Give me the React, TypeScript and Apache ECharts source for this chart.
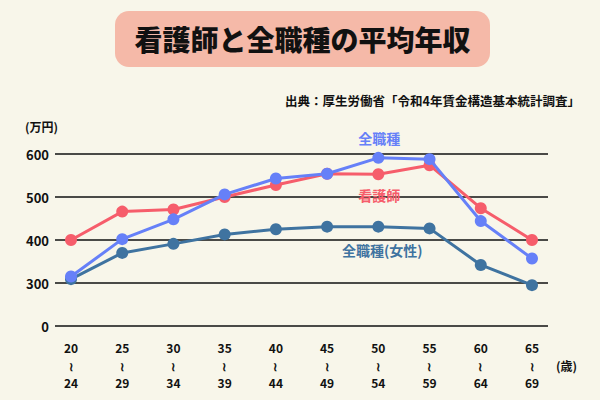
import React, { useEffect, useRef } from "react";
import * as echarts from "echarts";

const ageGroups = ["20\n≀\n24", "25\n≀\n29", "30\n≀\n34", "35\n≀\n39", "40\n≀\n44", "45\n≀\n49", "50\n≀\n54", "55\n≀\n59", "60\n≀\n64", "65\n≀\n69"];
const allJobs = [315, 402, 448, 506, 543, 554, 591, 588, 444, 357];
const nurses = [400, 466, 471, 500, 528, 554, 553, 574, 474, 400];
const allJobsFemale = [309, 370, 391, 413, 425, 431, 431, 427, 342, 295];
const yTickValues = [200, 300, 400, 500, 600];
const yTickLabels = ["0", "300", "400", "500", "600"];

const FONT = "'Noto Sans CJK JP', 'Noto Sans', sans-serif";
const BLUE = "#6680f8";
const PINK = "#f65d6b";
const TEAL = "#3f73a0";

function withLabel(values: number[], idx: number, text: string, color: string, position: string, distance: number, dx: number) {
  return values.map((v, i) =>
    i === idx
      ? {
          value: v,
          label: {
            show: true,
            formatter: text,
            position,
            distance,
            offset: [dx, 0],
            color,
            fontFamily: FONT,
            fontWeight: "bold",
            fontSize: 14,
          },
        }
      : v
  );
}

export default function App() {
  const ref = useRef<HTMLDivElement>(null);
  useEffect(() => {
    if (!ref.current) return;
    const chart = echarts.init(ref.current, undefined, { renderer: "svg" });
    const lineSeries = (name: string, data: any[], color: string, z: number) => ({
      name,
      type: "line",
      xAxisIndex: 0,
      yAxisIndex: 0,
      data,
      symbol: "circle",
      symbolSize: 12,
      z,
      lineStyle: { color, width: 3 },
      itemStyle: { color },
    });
    chart.setOption({
      animation: false,
      backgroundColor: "#f8f6ea",
      textStyle: { fontFamily: FONT },
      grid: [
        { left: 71, right: 68, top: 154, height: 172 },
        { left: 55, right: 52, top: 154, height: 172 },
      ],
      xAxis: [
        {
          type: "category",
          gridIndex: 0,
          data: ageGroups,
          boundaryGap: false,
          axisLine: { show: false },
          axisTick: { show: false },
          axisLabel: {
            color: "#111",
            fontFamily: FONT,
            fontWeight: "bold",
            fontSize: 12,
            lineHeight: 17.5,
            margin: 13,
            interval: 0,
          },
        },
        { type: "value", gridIndex: 1, show: false },
      ],
      yAxis: [
        { type: "value", gridIndex: 0, min: 200, max: 600, interval: 100, show: false },
        {
          type: "value",
          gridIndex: 1,
          min: 200,
          max: 600,
          interval: 100,
          axisLine: { show: false },
          axisTick: { show: false },
          splitLine: { lineStyle: { color: "#111", width: 1.5 } },
          axisLabel: {
            color: "#111",
            fontFamily: FONT,
            fontWeight: "bold",
            fontSize: 13,
            margin: 6,
            formatter: (v: number) => {
              const i = yTickValues.indexOf(v);
              return i >= 0 ? yTickLabels[i] : "";
            },
          },
        },
      ],
      series: [
        lineSeries("全職種(女性)", withLabel(allJobsFemale, 6, "全職種(女性)", TEAL, "bottom", 10, 4), TEAL, 2),
        lineSeries("看護師", withLabel(nurses, 6, "看護師", PINK, "bottom", 8, 1), PINK, 3),
        lineSeries("全職種", withLabel(allJobs, 6, "全職種", BLUE, "top", 7, 1), BLUE, 4),
      ],
      graphic: [
        {
          type: "rect",
          shape: { x: 115, y: 11, width: 375, height: 56, r: 14 },
          style: { fill: "#f5b9a8" },
        },
        {
          type: "text",
          x: 302.5,
          y: 39,
          style: {
            text: "看護師と全職種の平均年収",
            fill: "#111",
            font: `900 28px ${FONT}`,
            align: "center",
            verticalAlign: "middle",
          },
        },
        {
          type: "text",
          x: 580,
          y: 100,
          style: {
            text: "出典：厚生労働省「令和4年賃金構造基本統計調査」",
            fill: "#111",
            font: `bold 12.5px ${FONT}`,
            align: "right",
            verticalAlign: "middle",
          },
        },
        {
          type: "text",
          x: 25,
          y: 126,
          style: {
            text: "(万円)",
            fill: "#111",
            font: `bold 12px ${FONT}`,
            align: "left",
            verticalAlign: "middle",
          },
        },
        {
          type: "text",
          x: 556,
          y: 365,
          style: {
            text: "(歳)",
            fill: "#111",
            font: `bold 12px ${FONT}`,
            align: "left",
            verticalAlign: "middle",
          },
        },
      ],
    });
    return () => chart.dispose();
  }, []);
  return <div ref={ref} style={{ position: "fixed", left: 0, top: 0, width: 600, height: 400 }} />;
}
